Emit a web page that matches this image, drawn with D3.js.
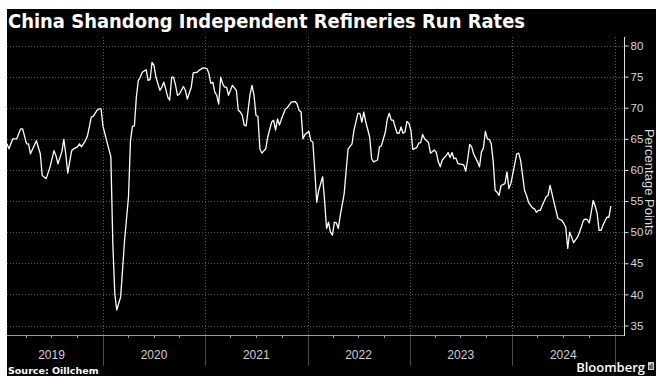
<!DOCTYPE html>
<html>
<head>
<meta charset="utf-8">
<script src="https://cdn.jsdelivr.net/npm/d3@7"></script>
<style>
  html, body { margin: 0; padding: 0; background: #fff; }
  svg { display: block; }
</style>
</head>
<body>
<svg id="chart" width="656" height="376"></svg>
<script>
// Weekly Shandong independent refinery run rates (%), first reading on 2019-01-24.
// weekNo = weeks elapsed since the first reading.
const firstReading = new Date(2019, 0, 24);

const weekNo = [
  0, 1, 3, 5, 6, 7, 8, 10, 11, 12,
  15, 17, 18, 20, 22, 24, 25, 26, 28, 29,
  30, 31, 33, 34, 36, 37, 38, 40, 41, 42,
  43, 44, 46, 47, 48, 49, 51, 52, 53,
  54, 55, 56, 58, 60, 62, 63, 64, 65, 66,
  67, 68, 69, 71, 72, 73, 74, 75, 76, 78,
  79, 80, 81, 82, 83, 84, 85, 86, 87, 88,
  90, 91, 92, 94, 95, 97, 98, 100, 102, 103,
  104, 105, 106, 107, 108, 109, 110, 111, 112, 113,
  114, 115, 117, 118, 119, 120, 121, 122, 123, 124,
  125, 126, 127, 128, 129, 130, 132, 133, 135, 136,
  137, 138, 139, 140, 142, 143, 145, 147, 148, 149,
  150, 151, 152, 154, 155, 156, 157, 158, 159, 161,
  162, 163, 164, 165, 166, 167, 168, 169, 170, 172,
  173, 174, 176, 177, 179, 180, 181, 182, 183, 185,
  186, 187, 189, 190, 191, 193, 194, 195, 196, 197,
  198, 199, 200, 201, 202, 203, 204, 205, 206, 207,
  209,
  210, 211, 212, 213, 215, 216, 218, 219, 220, 221,
  222, 224, 225, 226, 227, 228, 229, 230, 232, 233,
  234, 235, 236, 237, 238, 240, 241, 242, 243, 244,
  245, 246, 247, 248, 249, 250, 251, 252, 254, 255,
  256, 257, 258, 260, 261, 262, 263, 264, 265, 266,
  268, 269, 270, 271, 272, 273, 275, 276, 277, 278,
  279, 280, 281, 283, 284, 285, 286, 287, 288, 289,
  291, 292, 293, 294, 295, 296, 297, 298, 299, 300,
  301, 302, 303, 304, 305, 306, 307, 308
];

const runRate = [
  64.2, 63.4, 65.0, 65.0, 65.8, 66.6, 66.6, 64.2, 64.2, 62.6,
  64.7, 62.6, 59.1, 58.6, 60.5, 63.1, 62.3, 61.0, 62.9, 64.9,
  62.6, 59.5, 63.1, 63.4, 63.7, 64.2, 63.7, 64.7, 65.4, 66.9,
  68.5, 68.6, 69.6, 69.8, 69.8, 67.0, 64.5, 63.3, 62.1,
  48.2, 40.1, 37.5, 39.6, 48.7, 55.7, 64.7, 67.0, 67.1, 71.7,
  74.4, 74.9, 75.7, 76.1, 74.4, 74.5, 77.3, 76.8, 74.9, 72.8,
  73.3, 74.1, 73.0, 71.7, 71.2, 74.9, 74.9, 73.6, 72.0, 72.2,
  73.4, 72.8, 71.4, 73.3, 75.6, 75.7, 76.0, 76.4, 76.3, 75.5,
  73.9, 74.1, 72.5, 72.0, 70.6, 74.9, 73.9, 73.3, 73.3, 72.0,
  72.8, 73.6, 72.8, 69.6, 69.3, 68.8, 67.2, 67.1, 69.6, 72.2,
  73.6, 72.0, 68.8, 68.6, 63.4, 62.7, 63.4, 65.3, 67.7, 68.0,
  66.4, 68.2, 67.2, 68.2, 69.8, 70.0, 70.9, 71.0, 70.6, 69.6,
  69.3, 65.0, 65.7, 66.2, 64.7, 64.5, 59.9, 54.8, 56.7, 58.9,
  55.1, 50.6, 51.6, 50.0, 49.5, 51.6, 51.5, 50.6, 52.7, 56.2,
  59.9, 63.4, 64.2, 66.4, 69.1, 69.1, 67.7, 69.3, 67.7, 65.3,
  61.8, 61.3, 61.6, 63.7, 63.9, 66.1, 68.2, 69.1, 68.0, 68.0,
  66.9, 65.9, 65.9, 66.9, 65.9, 66.1, 67.8, 67.5, 66.4, 63.3,
  63.6,
  64.3, 64.4, 65.7, 65.0, 64.4, 62.7, 63.2, 62.8, 61.3, 60.5,
  61.6, 62.3, 62.8, 62.0, 62.8, 61.8, 61.9, 61.0, 60.9, 60.8,
  59.8, 61.8, 64.1, 63.7, 62.6, 61.3, 60.5, 62.9, 63.5, 66.2,
  65.0, 64.9, 64.2, 61.3, 56.7, 56.4, 55.9, 57.5, 57.8, 59.7,
  57.0, 57.8, 59.4, 62.6, 62.7, 61.5, 59.1, 56.7, 55.9, 54.8,
  53.9, 53.8, 53.2, 53.5, 53.5, 54.3, 55.7, 55.9, 57.5, 56.2,
  54.8, 53.5, 52.2, 51.9, 51.4, 50.8, 47.4, 50.0, 49.2, 48.3,
  49.2, 50.0, 50.9, 51.9, 52.1, 52.0, 51.5, 53.2, 55.1, 54.2,
  53.0, 50.3, 50.3, 51.1, 51.8, 52.4, 52.4, 54.2
];

const years = [2019, 2020, 2021, 2022, 2023, 2024];
const yTicks = [35, 40, 45, 50, 55, 60, 65, 70, 75, 80];

const titleText = "China Shandong Independent Refineries Run Rates";
const yAxisTitle = "Percentage Points";
const sourceText = "Source: Oillchem";
const brandText = "Bloomberg";

// ---- layout ----
const W = 656, H = 376;
const panel = { left: 7, top: 9 };
const plot = { left: 7, right: 624, top: 37, bottom: 335 };
const labelBandBottom = 366;

const series = weekNo.map((w, i) => ({
  date: d3.timeDay.offset(firstReading, 7 * w),
  value: runRate[i]
}));

const x = d3.scaleTime()
  .domain([new Date(2019, 0, 1), new Date(2025, 0, 1)])
  .range([0.5, 614.5]);

const y = d3.scaleLinear()
  .domain([35, 80])
  .range([325.5, 45.5]);

const svg = d3.select("#chart");

svg.append("rect").attr("width", W).attr("height", H).attr("fill", "#fff");
svg.append("rect")
  .attr("x", panel.left).attr("y", panel.top)
  .attr("width", W - panel.left).attr("height", H - panel.top)
  .attr("fill", "#000");

// title
svg.append("text")
  .attr("x", 8).attr("y", 28)
  .attr("fill", "#fff")
  .attr("font-family", "DejaVu Sans, sans-serif")
  .attr("font-weight", "bold")
  .attr("font-size", 19)
  .attr("textLength", 517)
  .attr("lengthAdjust", "spacingAndGlyphs")
  .text(titleText);

// horizontal dotted grid
svg.append("g")
  .selectAll("line")
  .data(yTicks)
  .join("line")
  .attr("x1", plot.left).attr("x2", plot.right)
  .attr("y1", d => Math.round(y(d)) + 0.5)
  .attr("y2", d => Math.round(y(d)) + 0.5)
  .attr("stroke", "#5a5a5a")
  .attr("stroke-width", 1)
  .attr("stroke-dasharray", "1,2");

// year boundaries: dotted inside the plot, solid in the label band
const yearStarts = years.slice(1).concat([2025]).map(yr => new Date(yr, 0, 1));
svg.append("g")
  .selectAll("line")
  .data(yearStarts)
  .join("line")
  .attr("x1", d => Math.round(x(d)) + 0.5)
  .attr("x2", d => Math.round(x(d)) + 0.5)
  .attr("y1", plot.top).attr("y2", plot.bottom)
  .attr("stroke", "#5a5a5a")
  .attr("stroke-dasharray", "1,2");

svg.append("g")
  .selectAll("line")
  .data(yearStarts)
  .join("line")
  .attr("x1", d => Math.round(x(d)) + 0.5)
  .attr("x2", d => Math.round(x(d)) + 0.5)
  .attr("y1", plot.bottom).attr("y2", labelBandBottom)
  .attr("stroke", "#4a4a4a")
  .attr("stroke-width", 1);

// quarterly ticks on the bottom axis
const quarterTicks = d3.timeMonth.every(3).range(new Date(2019, 0, 1), new Date(2025, 0, 2))
  .filter(d => d.getMonth() !== 0 && x(d) > plot.left);
svg.append("g")
  .selectAll("line")
  .data(quarterTicks)
  .join("line")
  .attr("x1", d => Math.round(x(d)) + 0.5)
  .attr("x2", d => Math.round(x(d)) + 0.5)
  .attr("y1", plot.bottom).attr("y2", plot.bottom + 3)
  .attr("stroke", "#9a9a9a");

// bottom axis line
svg.append("line")
  .attr("x1", plot.left).attr("x2", plot.right)
  .attr("y1", plot.bottom + 0.5).attr("y2", plot.bottom + 0.5)
  .attr("stroke", "#9a9a9a");

// year labels centred in each year
svg.append("g")
  .selectAll("text")
  .data(years)
  .join("text")
  .attr("x", yr => x(new Date(yr, 6, 2)))
  .attr("y", 359)
  .attr("text-anchor", "middle")
  .attr("fill", "#d0d0d0")
  .attr("font-family", "Liberation Sans, Arial, sans-serif")
  .attr("font-size", 12)
  .text(yr => yr);

// right value axis
const yAxis = d3.axisRight(y)
  .tickValues(yTicks)
  .tickSize(4)
  .tickPadding(2);
const yAxisG = svg.append("g")
  .attr("transform", `translate(${plot.right + 0.5},0)`)
  .call(yAxis);
yAxisG.select(".domain")
  .attr("d", `M0,${plot.top}V${plot.bottom + 1}`)
  .attr("stroke", "#e0e0e0");
yAxisG.selectAll(".tick line").attr("stroke", "#e0e0e0");
yAxisG.selectAll(".tick text")
  .attr("fill", "#d8d8d8")
  .attr("font-family", "Liberation Sans, Arial, sans-serif")
  .attr("font-size", 11.5);

svg.append("text")
  .attr("transform", "translate(645,182) rotate(90)")
  .attr("text-anchor", "middle")
  .attr("fill", "#d8d8d8")
  .attr("font-family", "Liberation Sans, Arial, sans-serif")
  .attr("font-size", 13)
  .text(yAxisTitle);

// run-rate line
const line = d3.line()
  .x(d => x(d.date))
  .y(d => y(d.value));

svg.append("path")
  .datum(series)
  .attr("d", line)
  .attr("fill", "none")
  .attr("stroke", "#fff")
  .attr("stroke-width", 1.3)
  .attr("stroke-linejoin", "round");

// footer
svg.append("text")
  .attr("x", 8).attr("y", 374)
  .attr("fill", "#fff")
  .attr("font-family", "DejaVu Sans, sans-serif")
  .attr("font-weight", "bold")
  .attr("font-size", 9.5)
  .text(sourceText);

svg.append("text")
  .attr("x", 645).attr("y", 372)
  .attr("text-anchor", "end")
  .attr("fill", "#fff")
  .attr("font-family", "Open Sans, sans-serif")
  .attr("font-weight", "600")
  .attr("font-size", 13)
  .text(brandText);

const icon = svg.append("g").attr("transform", "translate(648,362)");
icon.append("rect").attr("width", 6).attr("height", 8).attr("fill", "#cfcfcf");
icon.append("rect").attr("x", 1.5).attr("y", 3).attr("width", 1).attr("height", 4).attr("fill", "#000");
icon.append("rect").attr("x", 3.5).attr("y", 1.5).attr("width", 1).attr("height", 5.5).attr("fill", "#000");
</script>
</body>
</html>
